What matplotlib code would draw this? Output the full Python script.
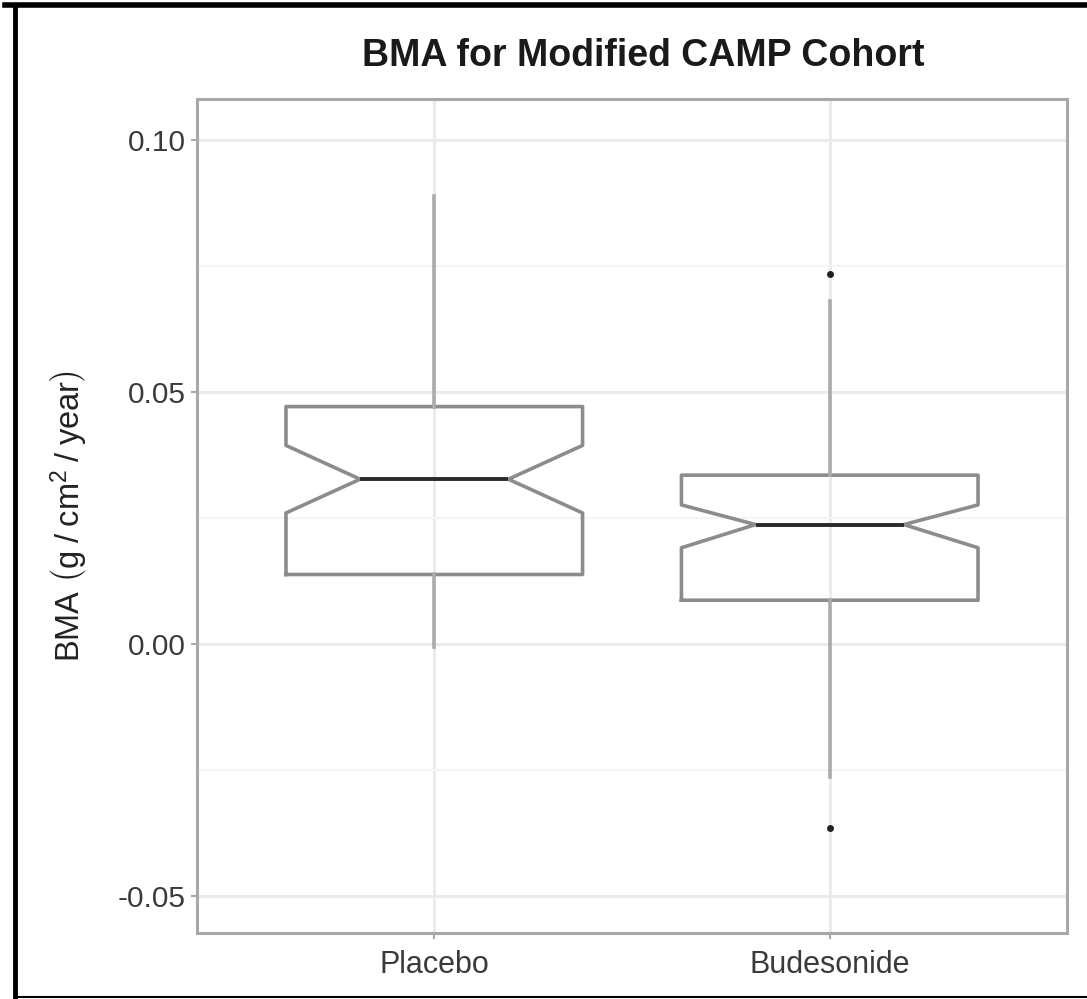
import matplotlib.pyplot as plt
from matplotlib.lines import Line2D
from matplotlib.ticker import MultipleLocator

plt.rcParams['font.family'] = ['Liberation Sans', 'DejaVu Sans']
plt.rcParams['mathtext.fontset'] = 'custom'
plt.rcParams['mathtext.rm'] = 'Liberation Sans'
plt.rcParams['mathtext.it'] = 'Liberation Sans'

# box summaries per treatment arm (g/cm^2/year)
groups = ['Placebo', 'Budesonide']
q1 = [0.0138, 0.0087]
medians = [0.0327, 0.0237]
q3 = [0.0471, 0.0335]
whisk_lo = [-0.0006, -0.0264]
whisk_hi = [0.0888, 0.0680]
notch_lo = [0.0260, 0.0191]
notch_hi = [0.0394, 0.0276]
outliers = [[], [0.0734, -0.0365]]

stats = []
for i, g in enumerate(groups):
    stats.append({
        'label': g, 'q1': q1[i], 'med': medians[i], 'q3': q3[i],
        'whislo': whisk_lo[i], 'whishi': whisk_hi[i],
        'cilo': notch_lo[i], 'cihi': notch_hi[i], 'fliers': outliers[i],
    })

fig = plt.figure(figsize=(10.87, 9.99), dpi=100)
ax = fig.add_axes([197 / 1087, 1 - 933 / 999, 870 / 1087, 834 / 999])

ax.bxp(stats, positions=[1, 2], widths=0.75, shownotches=True, showcaps=False,
       boxprops=dict(color='#8c8c8c', linewidth=2.6),
       whiskerprops=dict(color='#ababab', linewidth=2.6),
       medianprops=dict(color='#2a2a2a', linewidth=2.8),
       flierprops=dict(marker='o', markersize=4, markerfacecolor='#222222',
                       markeredgecolor='#222222'),
       zorder=3)

ax.set_xlim(0.4, 2.6)
ax.set_ylim(-0.0573, 0.1081)
ax.yaxis.set_major_locator(MultipleLocator(0.05))
ax.yaxis.set_minor_locator(MultipleLocator(0.025))
ax.set_yticks([-0.05, 0.0, 0.05, 0.10])
ax.set_yticklabels(['-0.05', '0.00', '0.05', '0.10'])
ax.set_xticks([1, 2])
ax.set_xticklabels(groups)

ax.grid(True, which='major', color='#ebebeb', linewidth=2.2, zorder=0)
ax.grid(True, which='minor', axis='y', color='#f5f5f5', linewidth=1.5, zorder=0)
ax.set_axisbelow(True)
ax.tick_params(axis='y', which='major', length=4, width=1.5, color='#aaaaaa',
               labelsize=21.5, labelcolor='#3a3a3a', pad=4)
ax.tick_params(axis='x', which='major', length=4, width=1.5, color='#aaaaaa',
               labelsize=22, labelcolor='#3a3a3a', pad=8)
ax.tick_params(axis='y', which='minor', length=0)
for s in ax.spines.values():
    s.set_color('#a8a8a8')
    s.set_linewidth(2.2)

ax.set_ylabel(r'BMA $\left(\mathrm{g\;/\;cm^{2}\;/\;year}\right)$', fontsize=23.5,
              color='#222222', labelpad=20)
fig.text(643 / 1087, 1 - 56 / 999, 'BMA for Modified CAMP Cohort',
         ha='center', va='center', fontsize=27, fontweight='bold', color='#1a1a1a')

# outer frame
fig.add_artist(Line2D([5 / 1087, 1], [1 - 5 / 999, 1 - 5 / 999],
                      transform=fig.transFigure, color='black', linewidth=4))
fig.add_artist(Line2D([15 / 1087, 15 / 1087], [1 - 5 / 999, 1 - 998 / 999],
                      transform=fig.transFigure, color='black', linewidth=3.5))
fig.add_artist(Line2D([15 / 1087, 1], [1 - 997 / 999, 1 - 997 / 999],
                      transform=fig.transFigure, color='black', linewidth=1.5))

fig.savefig('out.png', dpi=100)
